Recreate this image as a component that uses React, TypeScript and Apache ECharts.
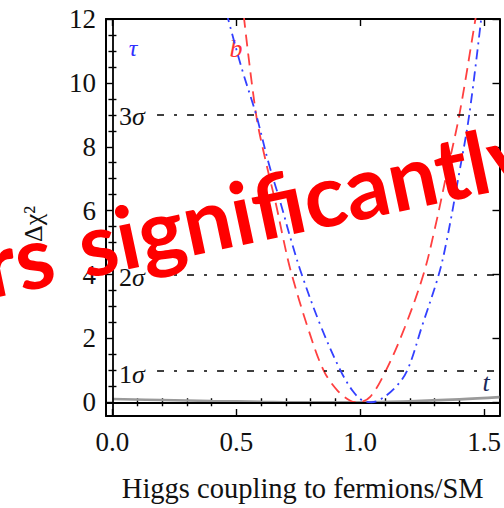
import React, { useEffect, useRef } from "react";
import * as echarts from "echarts";

// Axis ranges (frame)
const X_MIN = -0.026;
const X_MAX = 1.562;
const Y_MIN = -0.43;
const Y_MAX = 12;

// Tick values
const xMajor = [0, 0.5, 1.0, 1.5];
const xMinor = [0.1, 0.2, 0.3, 0.4, 0.6, 0.7, 0.8, 0.9, 1.1, 1.2, 1.3, 1.4];
const yMajor = [0, 2, 4, 6, 8, 10, 12];
const yMinor = [0.5, 1, 1.5, 2.5, 3, 3.5, 4.5, 5, 5.5, 6.5, 7, 7.5, 8.5, 9, 9.5, 10.5, 11, 11.5];

// Sigma reference levels
const sigmaLevels = [1, 4, 9];
const sigmaNames = ["1", "2", "3"];
const SIGMA_START = 0.18;

// b quark curve
const bCoupling = [0.53, 0.58, 0.62, 0.66, 0.69, 0.72, 0.79, 0.852, 0.91, 0.96, 0.99, 1.04, 1.104, 1.18, 1.255, 1.3, 1.35, 1.4, 1.465, 1.48];
const bChi2 = [12.1, 9.0, 7.5, 6.2, 5.1, 4.1, 2.3, 1.0, 0.35, 0.05, 0.0, 0.17, 1.0, 2.35, 4.0, 5.4, 7.2, 9.0, 12.0, 12.7];

// tau curve
const tauCoupling = [0.46, 0.52, 0.58, 0.63, 0.68, 0.72, 0.764, 0.84, 0.92, 0.97, 1.01, 1.045, 1.08, 1.14, 1.19, 1.25, 1.317, 1.35, 1.4, 1.44, 1.488];
const tauChi2 = [12.2, 10.5, 9.0, 7.5, 6.2, 5.1, 4.0, 2.4, 1.0, 0.35, 0.05, 0.0, 0.08, 0.45, 1.0, 2.4, 4.0, 5.1, 7.2, 9.0, 12.0];

// top quark curve
const tCoupling = [0, 0.2, 0.4, 0.6, 0.8, 1.0, 1.2, 1.4, 1.562];
const tChi2 = [0.1, 0.07, 0.04, 0.015, 0.0, 0.0, 0.03, 0.09, 0.16];

const SERIF = "Liberation Serif";
const INK = "#111111";

function pairs(xs: number[], ys: number[]) {
  return xs.map((x, i) => [x, ys[i]]);
}

export default function App() {
  const ref = useRef<HTMLDivElement>(null);
  useEffect(() => {
    if (!ref.current) return;
    const chart = echarts.init(ref.current, null, { renderer: "svg" });
    const frameLine = { show: true, onZero: false, lineStyle: { color: "#000", width: 2 } };
    const tickLine = { color: "#000", width: 1.4 };
    const baseX = { type: "value", min: X_MIN, max: X_MAX, splitLine: { show: false } };
    const baseY = { type: "value", min: Y_MIN, max: Y_MAX, splitLine: { show: false } };
    const option: any = {
      animation: false,
      backgroundColor: "#ffffff",
      grid: { left: 106, right: 1, top: 19, bottom: 88, containLabel: false },
      xAxis: [
        {
          ...baseX,
          position: "bottom",
          axisLine: frameLine,
          axisTick: { show: true, inside: true, length: 7, customValues: xMajor, lineStyle: tickLine },
          axisLabel: {
            show: true,
            customValues: xMajor,
            formatter: (v: number) => v.toFixed(1),
            margin: 12,
            fontFamily: SERIF,
            fontSize: 27,
            color: INK,
          },
          name: "Higgs coupling to fermions/SM",
          nameLocation: "middle",
          nameGap: 58,
          nameTextStyle: { fontFamily: SERIF, fontSize: 28.5, color: INK },
        },
        {
          ...baseX,
          position: "bottom",
          axisLine: { show: false },
          axisTick: { show: true, inside: true, length: 4, customValues: xMinor, lineStyle: tickLine },
          axisLabel: { show: false },
        },
        {
          ...baseX,
          position: "top",
          axisLine: frameLine,
          axisTick: { show: true, inside: true, length: 7, customValues: xMajor, lineStyle: tickLine },
          axisLabel: { show: false },
        },
        {
          ...baseX,
          position: "top",
          axisLine: { show: false },
          axisTick: { show: true, inside: true, length: 4, customValues: xMinor, lineStyle: tickLine },
          axisLabel: { show: false },
        },
      ],
      yAxis: [
        {
          ...baseY,
          position: "left",
          axisLine: frameLine,
          axisTick: { show: true, inside: true, length: 7, customValues: yMajor, lineStyle: tickLine },
          axisLabel: {
            show: true,
            customValues: yMajor,
            formatter: (v: number) => String(v),
            margin: 10,
            fontFamily: SERIF,
            fontSize: 27,
            color: INK,
          },
        },
        {
          ...baseY,
          position: "left",
          axisLine: { show: false },
          axisTick: { show: true, inside: true, length: 4, customValues: yMinor, lineStyle: tickLine },
          axisLabel: { show: false },
        },
        {
          ...baseY,
          position: "right",
          axisLine: frameLine,
          axisTick: { show: true, inside: true, length: 7, customValues: yMajor, lineStyle: tickLine },
          axisLabel: { show: false },
        },
        {
          ...baseY,
          position: "right",
          axisLine: { show: false },
          axisTick: { show: true, inside: true, length: 4, customValues: yMinor, lineStyle: tickLine },
          axisLabel: { show: false },
        },
      ],
      series: [
        {
          name: "t",
          type: "line",
          xAxisIndex: 0,
          yAxisIndex: 0,
          data: pairs(tCoupling, tChi2),
          smooth: 0.4,
          showSymbol: false,
          lineStyle: { color: "#9a9a9a", width: 2.6 },
          z: 3,
          markLine: {
            silent: true,
            symbol: ["none", "none"],
            label: { show: false },
            lineStyle: { color: "#000", width: 1.6, type: [7, 10, 3, 10] },
            data: sigmaLevels.map((v) => [
              { coord: [SIGMA_START, v] },
              { coord: [X_MAX, v] },
            ]),
          },
        },
        {
          name: "b",
          type: "line",
          xAxisIndex: 0,
          yAxisIndex: 0,
          data: pairs(bCoupling, bChi2),
          smooth: 0.35,
          showSymbol: false,
          lineStyle: { color: "#ff4040", width: 1.8, type: [12, 7] },
          z: 4,
          markLine: {
            silent: true,
            symbol: ["none", "none"],
            label: { show: false },
            lineStyle: { color: "#000", width: 1.8, type: "solid" },
            data: [{ xAxis: 0 }, { yAxis: 0 }],
          },
        },
        {
          name: "τ",
          type: "line",
          xAxisIndex: 0,
          yAxisIndex: 0,
          data: pairs(tauCoupling, tauChi2),
          smooth: 0.35,
          showSymbol: false,
          lineStyle: { color: "#3340ff", width: 1.8, type: [10, 5, 2, 5] },
          z: 5,
        },
      ],
      graphic: [
        {
          type: "text",
          x: 33,
          y: 224,
          rotation: Math.PI / 2,
          style: {
            text: "Δχ²",
            fontFamily: SERIF,
            fontSize: 26,
            fill: INK,
            align: "center",
            verticalAlign: "middle",
          },
        },
        ...sigmaLevels.map((v, i) => ({
          type: "text",
          x: 119,
          y: [374, 277, 116][i],
          style: {
            text: `{n|${sigmaNames[i]}}{s|σ}`,
            align: "left",
            verticalAlign: "middle",
            rich: {
              n: { fontFamily: SERIF, fontSize: 26, fill: INK },
              s: { fontFamily: SERIF, fontSize: 26, fontStyle: "italic", fill: INK },
            },
          },
        })),
        {
          type: "text",
          x: 133,
          y: 48,
          style: { text: "τ", fontFamily: SERIF, fontStyle: "italic", fontSize: 24, fill: "#3030ff", align: "center", verticalAlign: "middle" },
        },
        {
          type: "text",
          x: 236,
          y: 48,
          style: { text: "b", fontFamily: SERIF, fontStyle: "italic", fontSize: 26, fill: "#ff3030", align: "center", verticalAlign: "middle" },
        },
        {
          type: "text",
          x: 486,
          y: 382,
          style: { text: "t", fontFamily: SERIF, fontStyle: "italic", fontSize: 26, fill: "#1a2a5a", align: "center", verticalAlign: "middle" },
        },
        {
          type: "text",
          x: -17,
          y: 266,
          rotation: (12 * Math.PI) / 180,
          z: 100,
          style: {
            text: "{a|rs }{b|significantly}",
            align: "left",
            verticalAlign: "middle",
            rich: {
              a: { fontFamily: "Lato", fontWeight: "bold", fontSize: 87, fill: "#ff0000" },
              b: { fontFamily: "Lato", fontWeight: "bold", fontSize: 87, fill: "#ff0000", padding: [0, 0, 0, 6] },
            },
          },
        },
      ],
    };
    chart.setOption(option);
    return () => chart.dispose();
  }, []);
  return <div ref={ref} style={{ width: 504, height: 508, position: "absolute", left: 0, top: 0 }} />;
}
